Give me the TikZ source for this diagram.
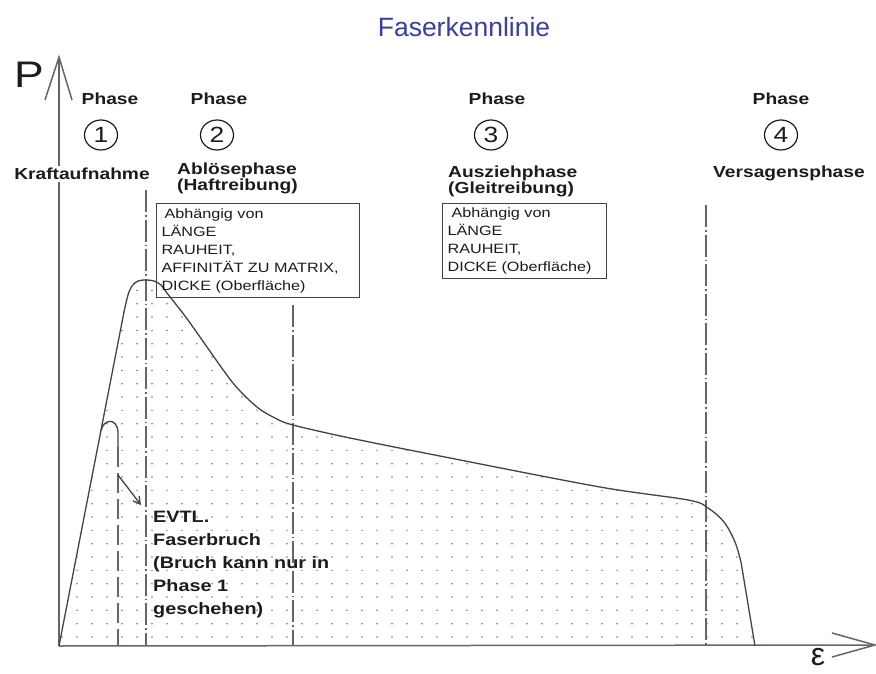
\documentclass[tikz,border=0pt]{standalone}
\usepackage{fontspec}
\setmainfont{Liberation Sans}[FakeStretch=1.2]
\newfontfamily\titlefont{Liberation Sans}
\usetikzlibrary{shapes.geometric,arrows.meta}
\definecolor{titleblue}{RGB}{58,62,160}
\definecolor{ink}{RGB}{28,28,28}
\definecolor{linegray}{RGB}{105,100,100}
\definecolor{curvegray}{RGB}{70,66,66}
\definecolor{dotgray}{RGB}{120,120,120}
\newcommand{\fkcurve}{(59,646) -- plot[smooth,tension=0.55] coordinates {(124,312) (128,295) (132,286) (138,281) (146,280) (154,281) (161,285) (167,293) (185,316) (200,337) (233,383) (257,407) (275,418) (293,425) (350,438) (450,458) (600,487) (688,500) (708,508) (724,522) (735,542) (741,562)} -- (755,646)}
\begin{document}
\begin{tikzpicture}[x=1pt,y=-1pt,
  axis/.style={draw=linegray, line width=1.5},
  curve/.style={draw=curvegray, line width=1.3},
  dashdot/.style={draw=linegray, line width=1.7, dash pattern=on 22pt off 3pt on 1.5pt off 3pt},
  dashline/.style={draw=linegray, line width=1.7, dash pattern=on 20pt off 6pt},
  phs/.style={font=\bfseries\fontsize{16}{16}\selectfont, text=ink, inner sep=0pt},
  numc/.style={ellipse, draw=ink, line width=1.2, minimum width=33pt, minimum height=30pt, inner sep=0pt, font=\fontsize{22}{22}\selectfont, text=ink},
  boxst/.style={draw=curvegray, line width=1.1, anchor=north west, inner xsep=5pt, inner ysep=0pt, align=left, font=\fontsize{13.5}{18}\selectfont, text=ink},
  note/.style={font=\bfseries\fontsize{16.5}{23}\selectfont, text=ink, align=left, inner sep=0pt}
]
\useasboundingbox (0,0) rectangle (876,674);
\fill[white] (0,0) rectangle (876,674);

% dotted fill under the curve
\begin{scope}
  \clip \fkcurve -- cycle;
  \foreach \i in {0,...,46} {
    \foreach \j in {0,...,27} {
      \fill[dotgray] ({62+15*\i},{637-13.33*\j}) circle (0.85);
    }
  }
\end{scope}

% axes
\coordinate (O) at (59,646);
\coordinate (ytip) at (59,57);
\coordinate (yl) at (45,100);
\coordinate (yr) at (72,100);
\coordinate (xtip) at (875,645);
\coordinate (xu) at (832,633);
\coordinate (xd) at (832,657);
\draw[axis] (O) -- (ytip);
\draw[axis] (yl) -- (ytip) -- (yr);
\draw[axis] (O) -- (xtip);
\draw[axis] (xu) -- (xtip) -- (xd);

% phase boundaries
\coordinate (l1t) at (146,190); \coordinate (l1b) at (146,646);
\coordinate (l2t) at (293,305); \coordinate (l2b) at (293,646);
\coordinate (l3t) at (706,205); \coordinate (l3b) at (706,646);
\draw[dashdot] (l1t) -- (l1b);
\draw[dashdot] (l2t) -- (l2b);
\draw[dashdot] (l3t) -- (l3b);

% curve
\draw[curve] \fkcurve;

% fibre break hook
\coordinate (hs) at (101,431);
\coordinate (he) at (118,447);
\coordinate (hb) at (118,646);
\draw[curve] (hs) .. controls (103,419) and (117,417) .. (118,432) -- (he);
\draw[dashline] (he) -- (hb);
\coordinate (as) at (118,475);
\coordinate (ae) at (141,505);
\draw[curve, -{Straight Barb[length=7pt,width=8pt]}] (as) -- (ae);

% title and axis labels
\node[text=titleblue, font=\titlefont\fontsize{26.5}{30}\selectfont] (title) at (464,27) {Faserkennlinie};
\node[text=ink, font=\fontsize{37}{40}\selectfont, inner sep=0pt] (P) at (29,75) {P};
\node[text=ink, font=\titlefont\fontsize{32}{34}\selectfont, inner sep=0pt] (eps) at (818,657) {ε};

% phase headings
\node[phs] (ph1) at (110,99) {Phase};
\node[phs] (ph2) at (219,99) {Phase};
\node[phs] (ph3) at (497,99) {Phase};
\node[phs] (ph4) at (781,99) {Phase};
\node[numc] (n1) at (101,135) {1};
\node[numc] (n2) at (217,135) {2};
\node[numc] (n3) at (491,135) {3};
\node[numc] (n4) at (781,135) {4};
\node[phs, fill=white, inner sep=2pt] (k1) at (82,174) {Kraftaufnahme};
\node[phs, anchor=north west, align=left] (k2) at (177,163) {Ablösephase\\(Haftreibung)};
\node[phs, anchor=north west, align=left] (k3) at (448,166) {Ausziehphase\\(Gleitreibung)};
\node[phs] (k4) at (789,173) {Versagensphase};

% dependency boxes
\node[boxst, text width=193pt, minimum height=94pt] (box1) at (156,203)
  {\hspace*{3pt}Abhängig von\\LÄNGE\\RAUHEIT,\\AFFINITÄT ZU MATRIX,\\DICKE (Oberfläche)};
\node[boxst, text width=154pt, minimum height=75pt] (box2) at (442,203)
  {\hspace*{4pt}Abhängig von\\LÄNGE\\RAUHEIT,\\DICKE (Oberfläche)};

% note
\node[note, anchor=north west] (evtl) at (153,511)
  {EVTL.\\Faserbruch\\(Bruch kann nur in\\Phase 1\\geschehen)};
\end{tikzpicture}
\end{document}
